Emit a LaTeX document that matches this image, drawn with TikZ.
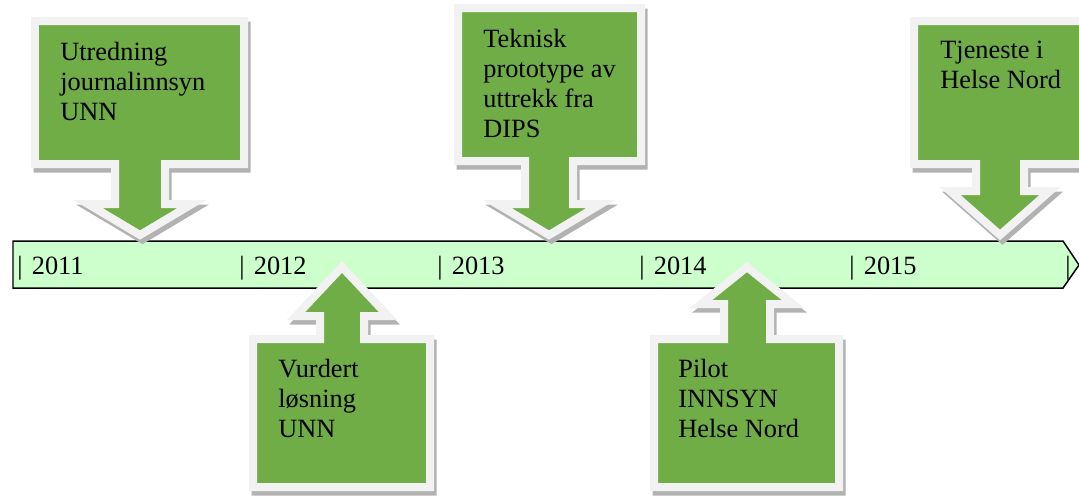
\documentclass[tikz,border=0pt]{standalone}
\usepackage{fontspec}
\setmainfont{Liberation Serif}
\definecolor{calloutgreen}{HTML}{70AD47}
\definecolor{calloutrim}{HTML}{F2F2F2}
\definecolor{barfill}{HTML}{CCFFCC}
\begin{document}
\begin{tikzpicture}[x=0.02cm,y=-0.02cm,
        callout/.style={fill=calloutgreen,draw=calloutrim,line width=0.16cm,line join=miter,
            preaction={draw=black!30,fill=black!30,line width=0.16cm,
                transform canvas={xshift=0.05cm,yshift=-0.09cm}}},
        note/.style={anchor=base west,align=left,inner sep=0pt,font=\fontsize{15}{17}\selectfont},
        year/.style={anchor=base west,inner sep=0pt,font=\fontsize{15}{17}\selectfont}]
        \useasboundingbox (0,0) rectangle (1079,495);
        % timeline bar
        \draw[fill=barfill,line width=0.03cm] (13,241)--(1063,241)--(1079,265)--(1063,288)--(13,288)--cycle;
        \node[year] (y2011) at (17,274) {|\hspace{0.35em}2011};
        \node[year] (y2012) at (239,274) {|\hspace{0.35em}2012};
        \node[year] (y2013) at (437,274) {|\hspace{0.35em}2013};
        \node[year] (y2014) at (639,274) {|\hspace{0.35em}2014};
        \node[year] (y2015) at (849,274) {|\hspace{0.35em}2015};
        \node[year] (yend) at (1065,274) {|};
        % callouts above the bar
        \draw[callout] (35,21)--(244,21)--(244,164)--(165,164)--(165,204)--(192,204)--(140,235)
            --(88,204)--(115,204)--(115,164)--(35,164)--cycle;
        \draw[callout] (458,8)--(641,8)--(641,161)--(573,161)--(573,204)--(601,204)--(549,235)
            --(497,204)--(525,204)--(525,161)--(458,161)--cycle;
        \draw[callout] (914,21)--(1110,21)--(1110,164)--(1024,164)--(1024,191)--(1050,191)--(1000,235)
            --(950,191)--(976,191)--(976,164)--(914,164)--cycle;
        % callouts below the bar
        \draw[callout] (253,487)--(430,487)--(430,339)--(364,339)--(364,316)--(388,316)--(342,267)
            --(296,316)--(320,316)--(320,339)--(253,339)--cycle;
        \draw[callout] (654,487)--(839,487)--(839,339)--(770,339)--(770,304)--(793,304)--(747,267)
            --(701,304)--(724,304)--(724,339)--(654,339)--cycle;
        % texts (base = last line)
        \node[note] (utredning) at (60,120) {Utredning\\journalinnsyn\\UNN};
        \node[note] (teknisk) at (483,137) {Teknisk\\prototype av\\uttrekk fra\\DIPS};
        \node[note] (tjeneste) at (940,88) {Tjeneste i\\Helse Nord};
        \node[note] (vurdert) at (278,437) {Vurdert\\løsning\\UNN};
        \node[note] (pilot) at (678,437) {Pilot\\INNSYN\\Helse Nord};
    \end{tikzpicture}
\end{document}
